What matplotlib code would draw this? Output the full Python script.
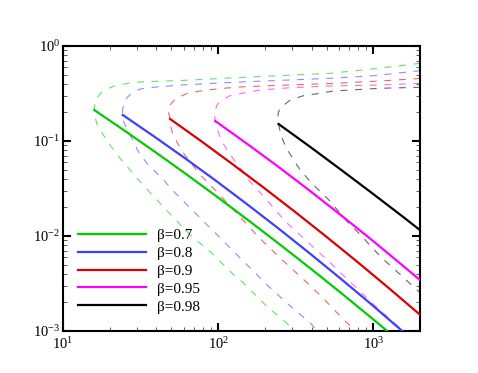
import matplotlib
matplotlib.use("Agg")
import matplotlib.pyplot as plt

plt.rcParams['font.family'] = ['Liberation Serif', 'DejaVu Serif']
plt.rcParams['mathtext.fontset'] = 'custom'
plt.rcParams['mathtext.rm'] = 'Liberation Serif'
plt.rcParams['mathtext.it'] = 'Liberation Serif:italic'
plt.rcParams['lines.scale_dashes'] = False

betas = ['0.7', '0.8', '0.9', '0.95', '0.98']
colors = ['#00cc00', '#3f3fff', '#dd0000', '#ff00ff', '#000000']

# beta = 0.7
g_solid_x = [15.92, 25.23, 39.99, 63.39, 100.5, 159.2, 252.3, 399.9, 633.9, 1005, 1265]
g_solid_y = [0.2118, 0.1268, 0.0750, 0.0438, 0.0252, 0.01432, 0.00804, 0.00446, 0.00244, 0.001315, 0.000962]
g_up_x = [15.92, 16.09, 16.70, 17.59, 19.51, 22.30, 29.14, 36.42, 56.87, 138.7, 528.4, 985, 2010]
g_up_y = [0.2118, 0.257, 0.290, 0.320, 0.357, 0.388, 0.415, 0.423, 0.433, 0.466, 0.516, 0.573, 0.657]
g_lo_x = [15.92, 16.07, 16.48, 18.2, 20.09, 23.33, 27.04, 31.41, 36.39, 48.98, 65.92, 93.33, 125.6, 145.5, 200.9, 284.4, 314.1]
g_lo_y = [0.2118, 0.1832, 0.1535, 0.1156, 0.0908, 0.0658, 0.0495, 0.0373, 0.0287, 0.01706, 0.01033, 0.00635, 0.00392, 0.0032, 0.00189, 0.001164, 0.001]

# beta = 0.8
b_solid_x = [24.27, 38.46, 60.95, 96.6, 153.1, 242.7, 384.6, 609.5, 966, 1603]
b_solid_y = [0.188, 0.1122, 0.0661, 0.0382, 0.02168, 0.01213, 0.00667, 0.00361, 0.001923, 0.000942]
b_up_x = [24.27, 24.2, 24.5, 25.1, 25.9, 28.3, 31.4, 37.0, 56.9, 138.7, 528.4, 1000, 2010]
b_up_y = [0.188, 0.212, 0.2296, 0.2636, 0.2871, 0.328, 0.352, 0.366, 0.388, 0.418, 0.457, 0.486, 0.55]
b_lo_x = [24.27, 24.55, 27.73, 30.62, 34.67, 45.5, 51.5, 69.3, 98.2, 138.7, 169, 206, 277, 393, 436]
b_lo_y = [0.188, 0.1596, 0.1067, 0.0771, 0.0586, 0.0373, 0.0296, 0.0182, 0.01033, 0.00586, 0.00425, 0.00307, 0.00197, 0.00121, 0.001]

# beta = 0.9
r_solid_x = [48.98, 77.62, 123.0, 195.0, 309.0, 489.8, 776.2, 1230, 2042]
r_solid_y = [0.1706, 0.0998, 0.0574, 0.0326, 0.01824, 0.01005, 0.00546, 0.00292, 0.001442]
r_up_x = [48.98, 47.75, 48.98, 52.84, 62.8, 80.4, 113.8, 142.9, 227.5, 535.8, 1109, 2010]
r_up_y = [0.1706, 0.2032, 0.2393, 0.2767, 0.3162, 0.3404, 0.3614, 0.3715, 0.3837, 0.4027, 0.4285, 0.455]
r_lo_x = [48.98, 49.3, 50.5, 54.2, 59.7, 67.6, 76.6, 95.7, 138.7, 182, 251, 347, 467, 643, 776]
r_lo_y = [0.1706, 0.1472, 0.1245, 0.0975, 0.0748, 0.0573, 0.0439, 0.0305, 0.01585, 0.00975, 0.00586, 0.00361, 0.00228, 0.001315, 0.001]

# beta = 0.95
m_solid_x = [95.7, 151.7, 240.4, 381.1, 603.9, 957.2, 1517, 2046]
m_solid_y = [0.1625, 0.0948, 0.0546, 0.0308, 0.0171, 0.00935, 0.00502, 0.00333]
m_up_x = [95.7, 94.6, 98.2, 105.7, 119.4, 142.9, 186.6, 291.7, 535.8, 1109, 2010]
m_up_y = [0.1625, 0.196, 0.2393, 0.2704, 0.2999, 0.3177, 0.3443, 0.3639, 0.3793, 0.3882, 0.4046]
m_lo_x = [95.7, 98.2, 105.7, 116.4, 128.8, 138.7, 160.7, 200.9, 270.4, 373.3, 515.2, 743, 1076, 1563]
m_lo_y = [0.1625, 0.1361, 0.0984, 0.0771, 0.0605, 0.0516, 0.0373, 0.0251, 0.01429, 0.00879, 0.00542, 0.00305, 0.00171, 0.001]

# beta = 0.98
k_solid_x = [244.9, 388.2, 615.2, 975, 1545, 2084]
k_solid_y = [0.151, 0.0877, 0.0502, 0.0285, 0.01603, 0.01094]
k_up_x = [244.9, 241.5, 244.9, 257.6, 291.7, 354.8, 455, 552, 1109, 2010]
k_up_y = [0.151, 0.1734, 0.2032, 0.2296, 0.2704, 0.2999, 0.3177, 0.3357, 0.3589, 0.3673]
k_lo_x = [244.9, 251.2, 263.6, 284.4, 306.2, 338.1, 392.6, 443.6, 515.2, 676.1, 824.1, 1109, 1531, 2010]
k_lo_y = [0.151, 0.1253, 0.0984, 0.0771, 0.0631, 0.0495, 0.0373, 0.0305, 0.0241, 0.01429, 0.01033, 0.0061, 0.00377, 0.00251]

solids = [(g_solid_x, g_solid_y), (b_solid_x, b_solid_y), (r_solid_x, r_solid_y),
          (m_solid_x, m_solid_y), (k_solid_x, k_solid_y)]
uppers = [(g_up_x, g_up_y), (b_up_x, b_up_y), (r_up_x, r_up_y), (m_up_x, m_up_y), (k_up_x, k_up_y)]
lowers = [(g_lo_x, g_lo_y), (b_lo_x, b_lo_y), (r_lo_x, r_lo_y), (m_lo_x, m_lo_y), (k_lo_x, k_lo_y)]

fig = plt.figure(figsize=(4.78, 3.73), dpi=100)
ax = fig.add_axes([0.1318, 0.1126, 0.7469, 0.7641])

# dashed branches: upper one reversed, then through the turning point into the lower one
for i in range(5):
    ux, uy = uppers[i]
    lx, ly = lowers[i]
    dx = ux[::-1] + lx[1:]
    dy = uy[::-1] + ly[1:]
    ax.plot(dx, dy, color=colors[i], lw=0.8, alpha=0.6, dashes=(5, 5.5), zorder=2)
for i in range(5):
    sx, sy = solids[i]
    ax.plot(sx, sy, color=colors[i], lw=1.6, label='β=' + betas[i], zorder=3)

ax.set_xscale('log')
ax.set_yscale('log')
ax.set_xlim(10, 2000)
ax.set_ylim(1e-3, 1)

for s in ax.spines.values():
    s.set_linewidth(1.5)
ax.tick_params(which='both', direction='in', top=True, right=True)
ax.tick_params(which='major', length=5.5, width=1.5, labelsize=10.5)
ax.tick_params(which='minor', length=3, width=0.7, color='0.35')
ax.tick_params(axis='x', which='major', pad=4)
ax.tick_params(axis='y', which='major', pad=2)

ax.legend(loc='upper left', bbox_to_anchor=(0.043, 0.359), frameon=False, fontsize=11,
          handlelength=4.4, handletextpad=0.75, labelspacing=0.27, borderpad=0, borderaxespad=0)

fig.savefig('out.png', dpi=100)
